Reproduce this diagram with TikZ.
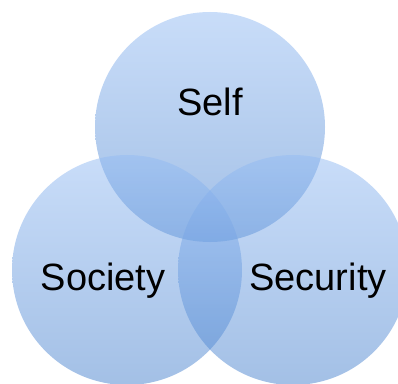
\documentclass[tikz,border=0pt]{standalone}
\usepackage{fontspec}
\setmainfont{Liberation Sans}
\definecolor{ringtop}{RGB}{147,187,243}
\definecolor{ringbottom}{RGB}{71,129,205}
\begin{document}
\begin{tikzpicture}
        [   x = 1pt
        ,   y = 1pt
        ,   ring/.style =
            {   circle
            ,   minimum size = 230pt
            ,   inner sep = 0pt
            ,   top color = ringtop
            ,   bottom color = ringbottom
            ,   fill opacity = 0.5
            }
        ,   word/.style =
            {   anchor = base
            ,   inner sep = 0pt
            ,   font = \fontsize{38}{40}\selectfont
            }
        ]
        \useasboundingbox (0,0) rectangle (398,383);
        \clip (0,0) rectangle (398,383);
        \node [ring] (self) at (210,256) {};
        \node [ring] (society) at (127,113) {};
        \node [ring] (security) at (293,113) {};
        \node [word] (selflabel) at (210,267.3) {Self};
        \node [word] (societylabel) at (103,93) {Society};
        \node [word] (securitylabel) at (318,93) {Security};
    \end{tikzpicture}
\end{document}
